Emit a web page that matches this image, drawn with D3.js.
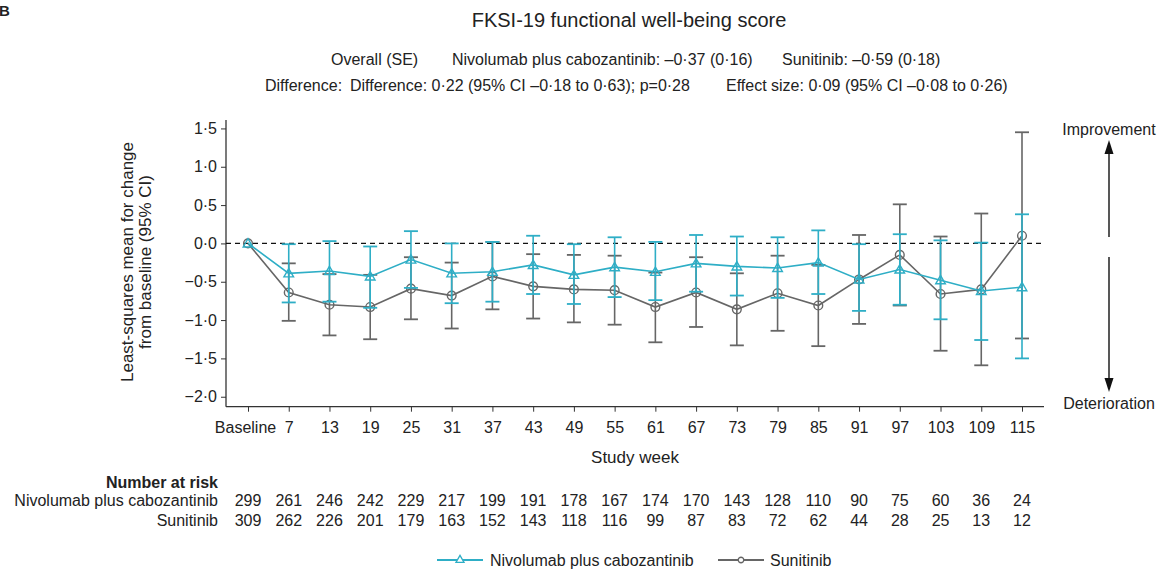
<!DOCTYPE html>
<html>
<head>
<meta charset="utf-8">
<script src="https://cdn.jsdelivr.net/npm/d3@7"></script>
<style>
  body { margin: 0; background: #fff; }
  svg { display: block; }
  text { font-family: "Liberation Sans", Arial, Helvetica, sans-serif; fill: #222; }
</style>
</head>
<body>
<svg id="chart" width="1163" height="571"></svg>
<script>
const weeks = ["Baseline","7","13","19","25","31","37","43","49","55","61","67","73","79","85","91","97","103","109","115"];
const nivoMean = [0, -0.39, -0.36, -0.43, -0.21, -0.39, -0.37, -0.28, -0.41, -0.31, -0.37, -0.26, -0.30, -0.32, -0.25, -0.47, -0.34, -0.48, -0.62, -0.57];
const nivoLow  = [0, -0.77, -0.76, -0.84, -0.58, -0.78, -0.76, -0.66, -0.79, -0.70, -0.74, -0.63, -0.68, -0.71, -0.66, -0.88, -0.80, -0.99, -1.26, -1.50];
const nivoHigh = [0, -0.01, 0.03, -0.04, 0.16, 0.00, 0.02, 0.10, -0.01, 0.08, 0.02, 0.11, 0.09, 0.08, 0.17, -0.01, 0.12, 0.04, 0.01, 0.38];
const sunMean = [0, -0.64, -0.80, -0.83, -0.59, -0.68, -0.43, -0.56, -0.60, -0.61, -0.83, -0.64, -0.86, -0.65, -0.81, -0.47, -0.15, -0.66, -0.60, 0.10];
const sunLow  = [0, -1.01, -1.20, -1.25, -0.99, -1.11, -0.86, -0.98, -1.03, -1.06, -1.29, -1.09, -1.33, -1.14, -1.34, -1.05, -0.81, -1.40, -1.59, -1.24];
const sunHigh = [0, -0.26, -0.40, -0.41, -0.18, -0.25, 0.02, -0.14, -0.15, -0.16, -0.38, -0.18, -0.39, -0.16, -0.28, 0.11, 0.51, 0.09, 0.39, 1.45];
const nivoRisk = [299,261,246,242,229,217,199,191,178,167,174,170,143,128,110,90,75,60,36,24];
const sunRisk  = [309,262,226,201,179,163,152,143,118,116,99,87,83,72,62,44,28,25,13,12];
const yTicks = [1.5, 1.0, 0.5, 0.0, -0.5, -1.0, -1.5, -2.0];
const seriesNames = ["Nivolumab plus cabozantinib", "Sunitinib"];

const TEAL = "#2eaec6";
const GRAY = "#666666";

const svg = d3.select("#chart");

const axisLeftX = 226, axisRightX = 1044, axisBottomY = 406.7, axisTopY = 120;
const x = d3.scalePoint().domain(weeks).range([248, 1022]);
const y = d3.scaleLinear().domain([-2.13, 1.61]).range([axisBottomY, axisTopY]);
const fmt = v => (v < 0 ? "\u2212" : "") + Math.abs(v).toFixed(1).replace(".", "\u00b7");

// Panel letter
svg.append("text").attr("x", -1).attr("y", 16).attr("font-size", 15).attr("font-weight", "bold").text("B");

// Header
svg.append("text").attr("x", 629).attr("y", 27).attr("text-anchor", "middle").attr("font-size", 20)
  .text("FKSI-19 functional well-being score");
const h2 = 65, h3 = 91, hs = 16;
svg.append("text").attr("x", 331).attr("y", h2).attr("font-size", hs).text("Overall (SE)");
svg.append("text").attr("x", 452).attr("y", h2).attr("font-size", hs).text("Nivolumab plus cabozantinib: \u20130\u00b737 (0\u00b716)");
svg.append("text").attr("x", 782).attr("y", h2).attr("font-size", hs).text("Sunitinib: \u20130\u00b759 (0\u00b718)");
svg.append("text").attr("x", 265).attr("y", h3).attr("font-size", hs).text("Difference:");
svg.append("text").attr("x", 350).attr("y", h3).attr("font-size", hs).text("Difference: 0\u00b722 (95% CI \u20130\u00b718 to 0\u00b763); p=0\u00b728");
svg.append("text").attr("x", 726).attr("y", h3).attr("font-size", hs).text("Effect size: 0\u00b709 (95% CI \u20130\u00b708 to 0\u00b726)");

// Axes
const gy = svg.append("g").attr("transform", `translate(${axisLeftX},0)`)
  .call(d3.axisLeft(y).tickValues(yTicks).tickSize(5).tickPadding(4).tickFormat(d => d === 0 ? "0\u00b70" : fmt(d)).tickSizeOuter(0));
gy.select(".domain").attr("d", `M0,${axisTopY}V${axisBottomY}`).attr("stroke", "#333").attr("stroke-width", 1.3);
gy.selectAll(".tick line").attr("stroke", "#333");
gy.selectAll(".tick text").attr("font-size", 16).attr("fill", "#222").attr("font-family", "Liberation Sans, Arial, sans-serif");

const gx = svg.append("g").attr("transform", `translate(0,${axisBottomY})`)
  .call(d3.axisBottom(x).tickSize(5).tickPadding(10).tickSizeOuter(0));
gx.select(".domain").attr("d", `M${axisLeftX},0H${axisRightX}`).attr("stroke", "#333").attr("stroke-width", 1.3);
gx.selectAll(".tick line").attr("stroke", "#333");
gx.selectAll(".tick text").attr("font-size", 16).attr("fill", "#222").attr("font-family", "Liberation Sans, Arial, sans-serif");
gx.selectAll(".tick text").filter(d => d === "Baseline").attr("dx", -3);

// Axis titles
svg.append("text").attr("x", 635).attr("y", 463).attr("text-anchor", "middle").attr("font-size", 17).text("Study week");
const yl = svg.append("text").attr("transform", "translate(133,262) rotate(-90)").attr("text-anchor", "middle").attr("font-size", 17);
yl.append("tspan").attr("x", 0).attr("dy", 0).text("Least-squares mean for change");
yl.append("tspan").attr("x", 0).attr("dy", 18).text("from baseline (95% CI)");

// Zero reference line
svg.append("line").attr("x1", axisLeftX).attr("x2", axisRightX).attr("y1", y(0)).attr("y2", y(0))
  .attr("stroke", "#111").attr("stroke-width", 1.2).attr("stroke-dasharray", "5,4");

function drawSeries(mean, low, high, color, marker) {
  const g = svg.append("g");
  const data = weeks.map((w, i) => ({w, m: mean[i], lo: low[i], hi: high[i]}));
  const capW = 7;
  data.filter(d => d.w !== "Baseline").forEach(d => {
    g.append("line").attr("x1", x(d.w)).attr("x2", x(d.w)).attr("y1", y(d.lo)).attr("y2", y(d.hi))
      .attr("stroke", color).attr("stroke-width", 1.6);
    [d.lo, d.hi].forEach(v => g.append("line").attr("x1", x(d.w) - capW).attr("x2", x(d.w) + capW)
      .attr("y1", y(v)).attr("y2", y(v)).attr("stroke", color).attr("stroke-width", 1.8));
  });
  g.append("path").datum(data).attr("fill", "none").attr("stroke", color).attr("stroke-width", 1.6)
    .attr("d", d3.line().x(d => x(d.w)).y(d => y(d.m)));
  const sym = marker === "tri" ? d3.symbol().type(d3.symbolTriangle).size(40) : d3.symbol().type(d3.symbolCircle).size(60);
  g.selectAll("path.mk").data(data).join("path").attr("class", "mk")
    .attr("transform", d => `translate(${x(d.w)},${y(d.m) + (marker === "tri" ? 0.8 : 0)})`)
    .attr("d", sym).attr("fill", "none").attr("stroke", color).attr("stroke-width", 1.4);
}
drawSeries(sunMean, sunLow, sunHigh, GRAY, "circ");
drawSeries(nivoMean, nivoLow, nivoHigh, TEAL, "tri");

// Improvement / deterioration arrows
const ax = 1109;
svg.append("text").attr("x", 1109).attr("y", 135).attr("text-anchor", "middle").attr("font-size", 16).text("Improvement");
svg.append("text").attr("x", 1109).attr("y", 409).attr("text-anchor", "middle").attr("font-size", 16).text("Deterioration");
svg.append("line").attr("x1", ax).attr("x2", ax).attr("y1", 237).attr("y2", 150).attr("stroke", "#111").attr("stroke-width", 1.4);
svg.append("path").attr("d", `M${ax},140L${ax - 4.5},154L${ax + 4.5},154Z`).attr("fill", "#111");
svg.append("line").attr("x1", ax).attr("x2", ax).attr("y1", 257).attr("y2", 382).attr("stroke", "#111").attr("stroke-width", 1.4);
svg.append("path").attr("d", `M${ax},392L${ax - 4.5},378L${ax + 4.5},378Z`).attr("fill", "#111");

// Number at risk
const rs = 16;
svg.append("text").attr("x", 218).attr("y", 488).attr("text-anchor", "end").attr("font-size", rs).attr("font-weight", "bold").text("Number at risk");
svg.append("text").attr("x", 218).attr("y", 506).attr("text-anchor", "end").attr("font-size", rs).text(seriesNames[0]);
svg.append("text").attr("x", 218).attr("y", 526).attr("text-anchor", "end").attr("font-size", rs).text(seriesNames[1]);
svg.append("g").selectAll("text").data(nivoRisk).join("text")
  .attr("x", (d, i) => x(weeks[i])).attr("y", 506).attr("text-anchor", "middle").attr("font-size", rs).text(d => d);
svg.append("g").selectAll("text").data(sunRisk).join("text")
  .attr("x", (d, i) => x(weeks[i])).attr("y", 526).attr("text-anchor", "middle").attr("font-size", rs).text(d => d);

// Legend
const lg = svg.append("g");
const legendItems = [
  {name: seriesNames[0], color: TEAL, marker: "tri", x0: 437, tx: 490},
  {name: seriesNames[1], color: GRAY, marker: "circ", x0: 718, tx: 770}
];
legendItems.forEach(it => {
  const ly = 560;
  lg.append("line").attr("x1", it.x0).attr("x2", it.x0 + 46).attr("y1", ly).attr("y2", ly).attr("stroke", it.color).attr("stroke-width", 1.8);
  const sym = it.marker === "tri" ? d3.symbol().type(d3.symbolTriangle).size(28) : d3.symbol().type(d3.symbolCircle).size(24);
  lg.append("path").attr("transform", `translate(${it.x0 + 23},${ly})`).attr("d", sym).attr("fill", "white").attr("stroke", it.color).attr("stroke-width", 1.3);
  lg.append("text").attr("x", it.tx).attr("y", ly + 6).attr("font-size", 16).text(it.name);
});
</script>
</body>
</html>
